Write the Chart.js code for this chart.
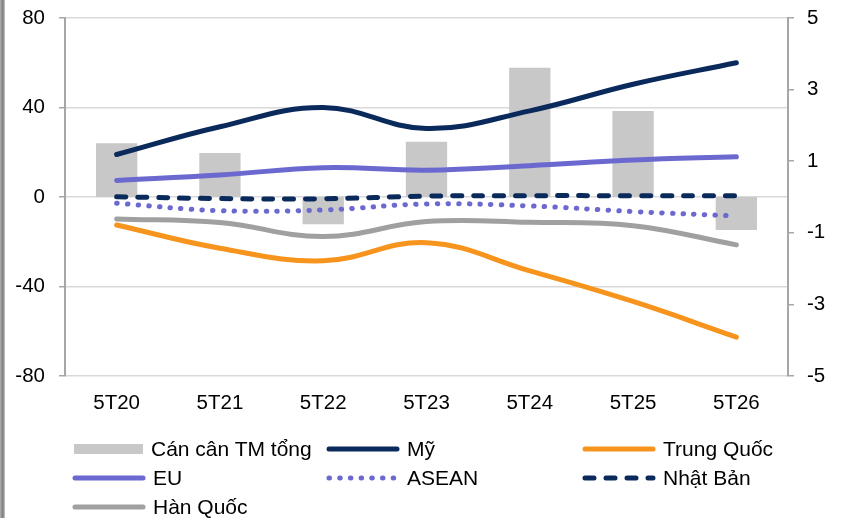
<!DOCTYPE html>
<html>
<head>
<meta charset="utf-8">
<script src="https://cdn.jsdelivr.net/npm/chart.js@4"></script>
<style>
  html, body { margin: 0; padding: 0; background: #fff; }
  body { width: 848px; height: 518px; position: relative; overflow: hidden; font-family: "Liberation Sans", Arial, sans-serif; }
  .edge { position: absolute; left: 0; top: 0; width: 5px; height: 518px; background: linear-gradient(to right, #b0b0b0, #7a7a7a 60%, #d0d0d0); }
  .wrap { position: absolute; left: 0; top: 0; width: 848px; height: 425px; }
  #legend { position: absolute; left: 0; top: 0; width: 848px; height: 518px; pointer-events: none; }
  .item { position: absolute; display: flex; align-items: center; height: 26px; font-size: 21px; color: #000; white-space: nowrap; }
  .item svg { margin-right: 7px; }
</style>
</head>
<body>
<div class="edge"></div>
<div class="wrap"><canvas id="combo"></canvas></div>
<div id="legend"></div>
<script>
// dữ liệu
const categories = ["5T20", "5T21", "5T22", "5T23", "5T24", "5T25", "5T26"];
const canCanTong = [1.5, 1.23, -0.76, 1.54, 3.61, 2.4, -0.92]; // trục phải
const my = [19, 31.4, 40, 30.6, 38.5, 50.4, 60];
const trungQuoc = [-12.5, -22.9, -28.5, -20.4, -33, -46.7, -62.6];
const eu = [7.4, 9.8, 13.1, 12, 14, 16.5, 18];
const asean = [-2.8, -6.1, -5.8, -3.1, -4, -6.5, -8.5];
const nhatBan = [0.1, -0.7, -0.8, 0.4, 0.6, 0.6, 0.6];
const hanQuoc = [-9.8, -11.4, -17.7, -11, -11.3, -12.8, -21.4];

const NAVY = "#0a2a5c";
const PURPLE = "#6b69d0";
const ORANGE = "#f7941d";
const GREY = "#a0a0a0";
const BAR = "#c8c8c8";

const lineBase = {
  type: "line",
  yAxisID: "y",
  fill: false,
  tension: 0.4,
  pointRadius: 0,
  borderWidth: 5,
  borderCapStyle: "round",
  order: 1,
};

const datasets = [
  { type: "bar", label: "Cán cân TM tổng", data: canCanTong, yAxisID: "y1", backgroundColor: BAR, barPercentage: 0.4, categoryPercentage: 1, order: 10 },
  { ...lineBase, label: "Mỹ", data: my, borderColor: NAVY },
  { ...lineBase, label: "Trung Quốc", data: trungQuoc, borderColor: ORANGE },
  { ...lineBase, label: "EU", data: eu, borderColor: PURPLE },
  { ...lineBase, label: "ASEAN", data: asean, borderColor: PURPLE, borderWidth: 5, borderDash: [0.5, 10.2] },
  { ...lineBase, label: "Nhật Bản", data: nhatBan, borderColor: NAVY, borderDash: [9, 12] },
  { ...lineBase, label: "Hàn Quốc", data: hanQuoc, borderColor: GREY },
];

const tickFont = { family: "'Liberation Sans', Arial, sans-serif", size: 20.5 };

// bỏ padding tự thêm cho nhãn trên/dưới của trục y
const fitY = (w) => (s) => {
  s.width = w;
  s.paddingTop = 0;
  s.paddingBottom = 0;
};

new Chart(document.getElementById("combo").getContext("2d"), {
  data: { labels: categories, datasets: datasets },
  options: {
    responsive: true,
    maintainAspectRatio: false,
    animation: false,
    layout: { padding: { top: 18, left: 0, right: 0, bottom: 0 } },
    plugins: { legend: { display: false }, tooltip: { enabled: false } },
    scales: {
      x: {
        grid: { display: false },
        border: { display: false },
        ticks: { color: "#000", font: tickFont, padding: 7 },
        afterFit: (s) => { s.height = 49; },
      },
      y: {
        position: "left",
        min: -80,
        max: 80,
        ticks: { stepSize: 40, color: "#000", font: tickFont, padding: 14 },
        grid: { color: "#d9d9d9", lineWidth: 1.5, tickColor: "#a6a6a6", tickLength: 6 },
        border: { color: "#a6a6a6", width: 2 },
        afterFit: fitY(65),
      },
      y1: {
        position: "right",
        min: -5,
        max: 5,
        ticks: { stepSize: 2, color: "#000", font: tickFont, padding: 13 },
        grid: { drawOnChartArea: false, tickColor: "#a6a6a6", tickLength: 6, lineWidth: 1.5 },
        border: { color: "#a6a6a6", width: 2 },
        afterFit: fitY(60),
      },
    },
  },
});

// chú thích bằng html (3 cột)
const colX = [74, 328, 584];
const rowY = [436, 465, 494];
const legend = document.getElementById("legend");
datasets.forEach((ds, i) => {
  const col = i % 3, row = Math.floor(i / 3);
  let sw;
  if (ds.type === "bar") {
    sw = `<svg width="70" height="12"><rect x="0" y="1" width="69" height="10" fill="${ds.backgroundColor}"/></svg>`;
  } else {
    const dash = ds.borderDash ? `stroke-dasharray="${ds.borderDash.join(" ")}"` : "";
    sw = `<svg width="74" height="12"><line x1="3" y1="6" x2="71" y2="6" stroke="${ds.borderColor}" stroke-width="${ds.borderWidth}" stroke-linecap="round" ${dash}/></svg>`;
  }
  const el = document.createElement("div");
  el.className = "item";
  el.style.left = (colX[col] - (ds.type === "bar" ? 0 : 2)) + "px";
  el.style.top = rowY[row] + "px";
  el.innerHTML = sw + `<span>${ds.label}</span>`;
  legend.appendChild(el);
});
</script>
</body>
</html>
